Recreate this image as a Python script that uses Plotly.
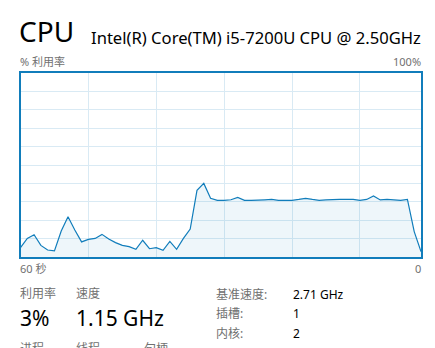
import plotly.graph_objects as go

# CPU utilisation (%) over the last 60 seconds, oldest first
seconds = list(range(60))
usage = [5.1, 10.1, 12.1, 6.3, 3.8, 3.3, 14.1, 21.9, 14.7, 8.2,
         9.6, 10.1, 12.3, 9.8, 7.8, 6.3, 5.6, 4.2, 9.1, 4.5,
         5.1, 3.6, 8.5, 4.2, 10.1, 15.2, 36.2, 40.0, 31.9, 30.8,
         30.8, 31.1, 32.4, 30.8, 30.8, 30.8, 31.1, 31.3, 30.8, 30.8,
         30.8, 31.3, 31.9, 31.3, 30.8, 31.0, 31.3, 31.3, 31.3, 31.3,
         30.8, 31.3, 33.2, 31.0, 31.3, 31.0, 30.8, 31.3, 13.8, 2.9]

title = "CPU"
model = "Intel(R) Core(TM) i5-7200U CPU @ 2.50GHz"
y_label_left = "% 利用率"
y_label_right = "100%"
x_label_left = "60 秒"
x_label_right = "0"
stat_labels = ["利用率", "速度"]
stat_values = ["3%", "1.15 GHz"]
info_labels = ["基准速度:", "插槽:", "内核:"]
info_values = ["2.71 GHz", "1", "2"]
more_labels = ["进程", "线程", "句柄"]

W, H = 435, 348
FONT = "Noto Sans, Noto Sans CJK SC, sans-serif"
LINE = "#117DBB"
GRID = "#D9EAF4"
GREY = "#707070"


def px(x):
    return x / W


def py(y):
    return 1 - y / H


fig = go.Figure()
fig.add_trace(go.Scatter(
    x=seconds, y=usage, mode="lines",
    line=dict(color=LINE, width=1.2),
    fill="tozeroy", fillcolor="rgba(17,125,187,0.07)",
    hoverinfo="skip", showlegend=False,
))

annotations = []


def txt(x, y, s, size, color, anchor="left"):
    annotations.append(dict(
        x=px(x), y=py(y), xref="paper", yref="paper", text=s,
        showarrow=False, xanchor=anchor, yanchor="middle",
        font=dict(family=FONT, size=size, color=color),
    ))


txt(17, 31, title, 28, "#000000")
txt(89, 37, model, 16.6, "#000000")
txt(18, 61, y_label_left, 11, GREY)
txt(423, 61, y_label_right, 11, GREY, anchor="right")
txt(18, 268, x_label_left, 11, GREY)
txt(423, 268, x_label_right, 11, GREY, anchor="right")

stat_x = [18, 74]
for sx, lab, val in zip(stat_x, stat_labels, stat_values):
    txt(sx, 293.5, lab, 12, GREY)
    txt(sx, 317.5, val, 21, "#000000")

for i, (lab, val) in enumerate(zip(info_labels, info_values)):
    yy = 294 + i * 19.5
    txt(214, yy, lab, 12, GREY)
    txt(291, yy, val, 12, "#000000")

for mx, lab in zip([18, 74, 142], more_labels):
    txt(mx, 348, lab, 12, GREY)

fig.update_layout(
    width=W, height=H,
    margin=dict(l=0, r=0, t=0, b=0),
    paper_bgcolor="white", plot_bgcolor="white",
    annotations=annotations,
    xaxis=dict(
        domain=[px(20.5), px(421)], range=[0, 59],
        tickvals=[10, 20, 30, 40, 50], showticklabels=False, ticks="",
        showgrid=True, gridcolor=GRID, gridwidth=1, zeroline=False,
        showline=True, linecolor=LINE, linewidth=1.5, mirror=True,
        fixedrange=True,
    ),
    yaxis=dict(
        domain=[py(257), py(73)], range=[0, 100],
        tickvals=list(range(10, 100, 10)), showticklabels=False, ticks="",
        showgrid=True, gridcolor=GRID, gridwidth=1, zeroline=False,
        showline=True, linecolor=LINE, linewidth=1.5, mirror=True,
        fixedrange=True,
    ),
)

fig.write_html("out.html", config={"displayModeBar": False})
